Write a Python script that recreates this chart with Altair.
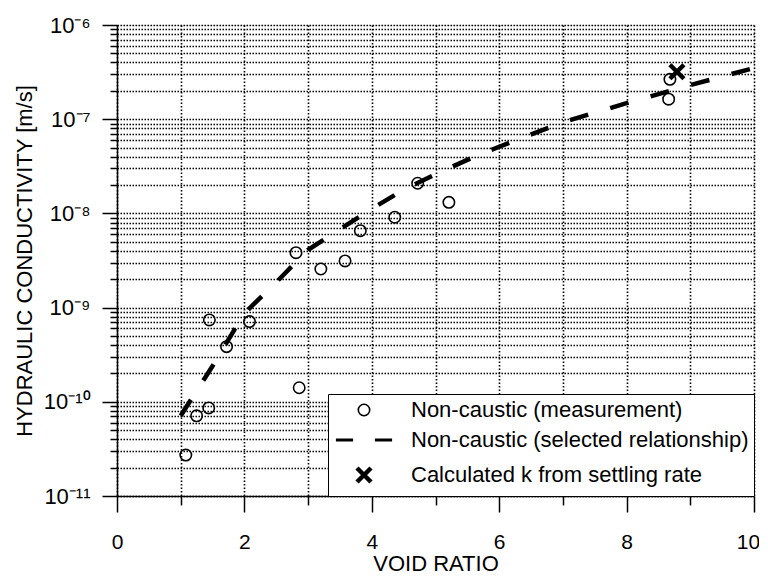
import json
import altair as alt
import pandas as pd

# ---- data ----
meas_e = [1.08, 1.25, 1.44, 1.45, 1.72, 2.08, 2.81, 2.86, 3.20, 3.58, 3.82, 4.36, 4.72, 5.21, 8.66, 8.68]
meas_k = [2.72e-11, 7.1e-11, 8.6e-11, 7.4e-10, 3.85e-10, 7.1e-10, 3.83e-9, 1.41e-10, 2.57e-9,
          3.13e-9, 6.55e-9, 9.1e-9, 2.09e-8, 1.31e-8, 1.63e-7, 2.65e-7]
calc_e = [8.79]
calc_k = [3.19e-7]
rel_e = [1.0, 1.5, 2.0, 2.5, 3.0, 3.5, 4.0, 4.5, 5.0, 5.5, 6.0, 7.0, 8.0, 9.0, 10.0]
rel_k = [7.1e-11, 2.4e-10, 8.7e-10, 1.86e-9, 4.1e-9, 6.8e-9, 1.12e-8, 1.78e-8, 2.6e-8,
         3.7e-8, 5.1e-8, 9.3e-8, 1.48e-7, 2.3e-7, 3.5e-7]
series_names = ["Non-caustic (measurement)", "Non-caustic (selected relationship)",
                "Calculated k from settling rate"]
x_ticks = list(range(0, 11))
y_ticks = [m * 10.0 ** p for p in range(-11, -6) for m in range(1, 10)] + [1e-6]
y_tick_labels = ["10⁻¹¹", "10⁻¹⁰", "10⁻⁹", "10⁻⁸", "10⁻⁷", "10⁻⁶"]

FONT = "Liberation Sans"

pts = pd.DataFrame({
    "e": meas_e + calc_e,
    "k": meas_k + calc_k,
    "series": [series_names[0]] * len(meas_e) + [series_names[2]] * len(calc_e),
})
rel = pd.DataFrame({"e": rel_e, "k": rel_k})

is_decade = "abs(log(datum.value)/LN10 - round(log(datum.value)/LN10)) < 0.01"
y_label_expr = (f"({is_decade}) ? {json.dumps(y_tick_labels, ensure_ascii=False)}"
                f"[round(log(datum.value)/LN10) + 11] : ''")

x_axis = alt.Axis(
    values=x_ticks, title="VOID RATIO",
    labelExpr="datum.value % 2 == 0 ? datum.label : ''",
    tickSize={"condition": {"test": "datum.value % 2 == 0", "value": 16}, "value": 9},
    labelOffset={"condition": {"test": "datum.value == 10", "value": -6}, "value": 0},
    labelPadding=36, labelBaseline="alphabetic", labelFlush=False, labelOverlap=False,
    labelFontSize=21, labelFont=FONT, labelColor="black",
    titleFontSize=22, titleFont=FONT, titleFontWeight="normal", titleColor="black",
    titleX=318.5, titleY=74, titleBaseline="alphabetic",
    grid=True, gridDash=[1.5, 2], gridColor="black", gridWidth=1.6, gridOpacity=1,
    domainColor="black", domainWidth=1.5, tickColor="black", tickWidth=1.5,
)
y_axis = alt.Axis(
    values=y_ticks, title="HYDRAULIC CONDUCTIVITY [m/s]",
    labelExpr=y_label_expr,
    tickSize={"condition": {"test": is_decade, "value": 15}, "value": 7},
    labelPadding=12, labelFlush=False, labelOverlap=False,
    labelFontSize=22, labelFont=FONT, labelColor="black",
    titleFontSize=22, titleFont=FONT, titleFontWeight="normal", titleColor="black",
    titleX=-86, titleY=235.5, titleBaseline="alphabetic",
    grid=True, gridDash=[1.5, 1.5], gridColor="black", gridWidth=1.3, gridOpacity=1,
    domainColor="black", domainWidth=1.5, tickColor="black", tickWidth=1.5,
)

x_enc = alt.X("e:Q", scale=alt.Scale(domain=[0, 10], nice=False, zero=False), axis=x_axis)
y_enc = alt.Y("k:Q", scale=alt.Scale(type="log", domain=[1e-11, 1e-6], nice=False), axis=y_axis)

legend = alt.Legend(
    title=None, orient="bottom-right", offset=0, padding=5, rowPadding=8,
    symbolOffset=20, labelOffset=36, labelFontSize=22, labelFont=FONT, labelColor="black",
    labelLimit=0, strokeColor="black", fillColor="white", symbolStrokeColor="black",
)

shape_range = ["circle", "M-4.4,0L-1.7,0M1.7,0L4.4,0", "M-1,-1L1,1M-1,1L1,-1"]

line = alt.Chart(rel).mark_line(
    color="black", strokeWidth=4.5, strokeDash=[19, 23], strokeCap="butt"
).encode(x=x_enc, y=y_enc)

points = alt.Chart(pts).mark_point(filled=False, color="black", opacity=1).encode(
    x=x_enc, y=y_enc,
    shape=alt.Shape("series:N", scale=alt.Scale(domain=series_names, range=shape_range), legend=legend),
    strokeWidth=alt.StrokeWidth("series:N", scale=alt.Scale(domain=series_names, range=[1.6, 4.5, 5]), legend=legend),
    size=alt.Size("series:N", scale=alt.Scale(domain=series_names, range=[130, 196, 196]), legend=legend),
)

chart = alt.layer(line, points).properties(
    width=637, height=471,
    autosize=alt.AutoSizeParams(type="none"),
    padding={"left": 109, "top": 17, "right": 5, "bottom": 80},
).configure_view(strokeWidth=0).configure(background="white")

chart.save("out.html", embed_options={"renderer": "svg", "actions": False})
